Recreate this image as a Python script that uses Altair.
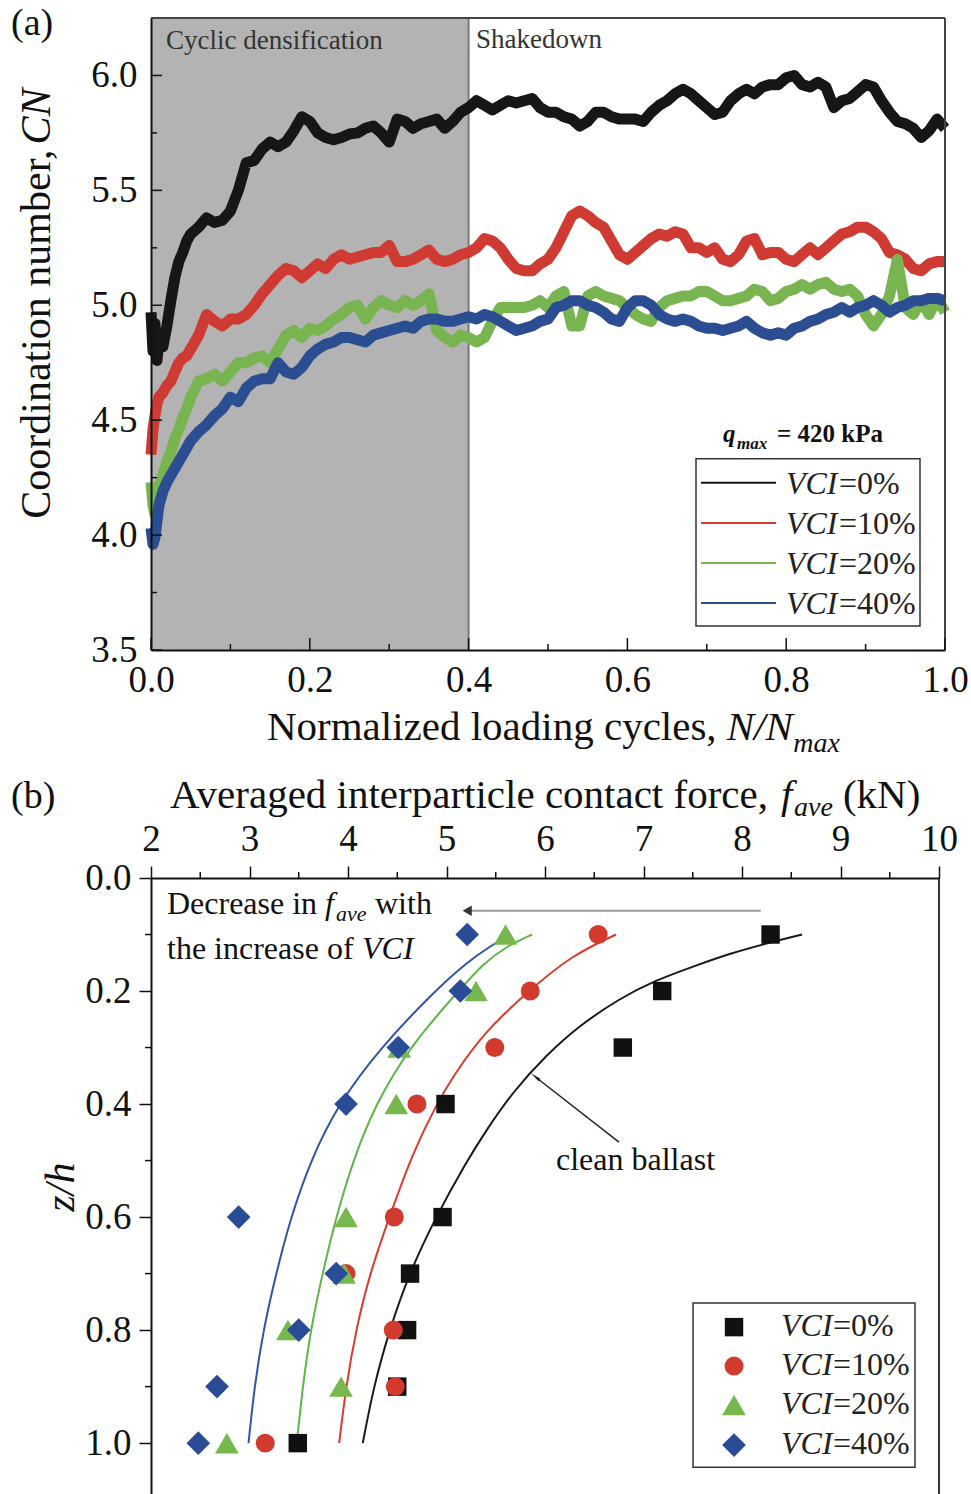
import altair as alt
import pandas as pd

FONT = "Liberation Serif"

# ---------------- panel (a): coordination number vs normalized cycles ----------------
T = [0, 0.0025, 0.005, 0.0075, 0.01, 0.015, 0.02, 0.025, 0.03, 0.035, 0.04, 0.045, 0.05,
     0.06, 0.07, 0.08, 0.09, 0.10, 0.11, 0.12, 0.13, 0.14, 0.15,
     0.16, 0.17, 0.18, 0.19, 0.20, 0.21, 0.22, 0.23, 0.24, 0.25,
     0.26, 0.27, 0.28, 0.29, 0.30, 0.31, 0.32, 0.33, 0.34, 0.35,
     0.36, 0.37, 0.38, 0.39, 0.40, 0.41, 0.42, 0.43, 0.44, 0.45,
     0.46, 0.47, 0.48, 0.49, 0.50, 0.51, 0.52, 0.53, 0.54, 0.55,
     0.56, 0.57, 0.58, 0.59, 0.60, 0.61, 0.62, 0.63, 0.64, 0.65,
     0.66, 0.67, 0.68, 0.69, 0.70, 0.71, 0.72, 0.73, 0.74, 0.75,
     0.76, 0.77, 0.78, 0.79, 0.80, 0.81, 0.82, 0.83, 0.84, 0.85,
     0.86, 0.87, 0.88, 0.89, 0.90, 0.91, 0.92, 0.93, 0.94, 0.95,
     0.96, 0.97, 0.98, 0.99, 1.00]

CN_VCI0 = [4.97, 4.80, 4.92, 4.76, 4.85, 4.82, 4.91, 5.02, 5.12, 5.19, 5.23, 5.28, 5.31,
           5.34, 5.38, 5.36, 5.37, 5.41, 5.50, 5.62, 5.63, 5.68, 5.71,
           5.69, 5.71, 5.76, 5.82, 5.80, 5.75, 5.73, 5.72, 5.73, 5.745,
           5.75, 5.77, 5.78, 5.75, 5.71, 5.81, 5.80, 5.77, 5.79, 5.80,
           5.81, 5.77, 5.80, 5.84, 5.86, 5.89, 5.87, 5.85, 5.87, 5.89,
           5.88, 5.89, 5.90, 5.86, 5.84, 5.84, 5.82, 5.81, 5.78, 5.80,
           5.84, 5.84, 5.82, 5.81, 5.81, 5.81, 5.80, 5.84, 5.87, 5.89,
           5.92, 5.94, 5.92, 5.89, 5.86, 5.83, 5.84, 5.89, 5.92, 5.94,
           5.92, 5.95, 5.96, 5.96, 5.99, 6.00, 5.96, 5.95, 5.97, 5.95,
           5.86, 5.89, 5.90, 5.93, 5.96, 5.95, 5.89, 5.84, 5.80, 5.79,
           5.77, 5.73, 5.76, 5.81, 5.77]

CN_VCI10 = [4.35, 4.46, 4.52, 4.57, 4.60, 4.62, 4.65, 4.67, 4.71, 4.75, 4.77, 4.78, 4.81,
            4.87, 4.96, 4.93, 4.91, 4.94, 4.94, 4.96, 5.00, 5.05, 5.09,
            5.13, 5.16, 5.15, 5.12, 5.15, 5.18, 5.16, 5.20, 5.22, 5.20,
            5.21, 5.22, 5.23, 5.23, 5.26, 5.19, 5.19, 5.20, 5.22, 5.24,
            5.20, 5.19, 5.20, 5.22, 5.23, 5.25, 5.29, 5.28, 5.25, 5.20,
            5.16, 5.15, 5.15, 5.18, 5.20, 5.25, 5.32, 5.39, 5.41, 5.39,
            5.36, 5.34, 5.28, 5.22, 5.20, 5.23, 5.26, 5.29, 5.31, 5.30,
            5.32, 5.31, 5.25, 5.25, 5.23, 5.25, 5.20, 5.19, 5.22, 5.28,
            5.29, 5.22, 5.23, 5.23, 5.20, 5.19, 5.22, 5.25, 5.22, 5.25,
            5.28, 5.31, 5.32, 5.34, 5.34, 5.32, 5.29, 5.23, 5.22, 5.20,
            5.16, 5.15, 5.18, 5.19, 5.19]

CN_VCI20 = [4.23, 4.13, 4.09, 4.13, 4.19, 4.26, 4.32, 4.36, 4.42, 4.46, 4.51, 4.55, 4.60,
            4.67, 4.68, 4.70, 4.67, 4.71, 4.75, 4.75, 4.77, 4.78, 4.75,
            4.81, 4.87, 4.89, 4.86, 4.90, 4.89, 4.91, 4.94, 4.96, 4.99,
            5.00, 4.94, 4.99, 5.02, 5.00, 4.99, 5.02, 5.00, 5.02, 5.05,
            4.89, 4.86, 4.84, 4.87, 4.86, 4.84, 4.86, 4.93, 4.99, 4.99,
            4.99, 4.99, 5.00, 5.02, 4.99, 5.04, 5.06, 4.91, 4.91, 5.04,
            5.06, 5.04, 5.03, 5.02, 4.99, 4.96, 4.94, 4.93, 4.99, 5.02,
            5.03, 5.04, 5.04, 5.06, 5.06, 5.04, 5.02, 5.02, 5.03, 5.04,
            5.07, 5.06, 5.02, 5.03, 5.06, 5.07, 5.09, 5.07, 5.09, 5.10,
            5.07, 5.06, 5.07, 5.04, 4.96, 4.91, 4.96, 5.04, 5.20, 4.99,
            4.96, 5.02, 4.96, 5.03, 4.97]

CN_VCI40 = [4.03, 3.96, 3.99, 4.06, 4.13, 4.19, 4.23, 4.26, 4.29, 4.32, 4.35, 4.38, 4.41,
            4.45, 4.48, 4.52, 4.55, 4.60, 4.58, 4.64, 4.67, 4.68, 4.68,
            4.75, 4.71, 4.70, 4.73, 4.78, 4.81, 4.83, 4.84, 4.86, 4.86,
            4.85, 4.84, 4.87, 4.88, 4.89, 4.90, 4.91, 4.90, 4.93, 4.94,
            4.94, 4.93, 4.93, 4.94, 4.95, 4.94, 4.96, 4.95, 4.93, 4.91,
            4.89, 4.90, 4.91, 4.93, 4.94, 4.99, 5.00, 5.02, 5.02, 5.00,
            4.99, 4.97, 4.94, 4.93, 4.99, 5.02, 5.02, 5.00, 4.96, 4.94,
            4.93, 4.94, 4.93, 4.91, 4.90, 4.90, 4.89, 4.90, 4.91, 4.93,
            4.90, 4.88, 4.87, 4.88, 4.87, 4.90, 4.91, 4.93, 4.94, 4.96,
            4.97, 4.99, 4.97, 4.99, 5.00, 5.02, 5.00, 4.97, 4.99, 5.00,
            5.02, 5.02, 5.03, 5.03, 5.02]

SERIES_LABELS = ["=0%", "=10%", "=20%", "=40%"]
LINE_COLORS = ["#161616", "#cf3b32", "#78b44f", "#2b4d92"]
PHASE_END = 0.4  # end of cyclic densification

# ---------------- panel (b): contact force vs depth ----------------
DEPTH = [0.1, 0.2, 0.3, 0.4, 0.6, 0.7, 0.8, 0.9, 1.0]
F_VCI0 = [8.29, 7.19, 6.79, 4.99, 4.96, 4.63, 4.60, 4.50, 3.49]
F_VCI10 = [6.54, 5.85, 5.49, 4.70, 4.47, 3.98, 4.46, 4.48, 3.16]
F_VCI20 = [5.60, 5.30, 4.52, 4.49, 3.98, 3.96, 3.39, 3.93, 2.77]
F_VCI40 = [5.21, 5.14, 4.51, 3.98, 2.89, 3.88, 3.50, 2.67, 2.48]

FIT0_Z = [0.10, 0.116, 0.134, 0.155, 0.181, 0.214, 0.261, 0.314, 0.379, 0.45, 0.5, 0.6, 0.7, 0.8, 0.9, 1.0]
FIT0_F = [8.61, 8.24, 7.87, 7.53, 7.12, 6.75, 6.35, 6.01, 5.67, 5.39, 5.21, 4.89, 4.62, 4.42, 4.26, 4.15]
FIT10_Z = [0.10, 0.137, 0.199, 0.273, 0.35, 0.4, 0.485, 0.6, 0.7, 0.8, 0.9, 1.0]
FIT10_F = [6.72, 6.27, 5.84, 5.38, 5.07, 4.90, 4.66, 4.42, 4.22, 4.08, 3.98, 3.91]
FIT20_Z = [0.10, 0.12, 0.15, 0.2, 0.3, 0.4, 0.5, 0.6, 0.7, 0.8, 0.9, 1.0]
FIT20_F = [5.87, 5.62, 5.38, 5.12, 4.62, 4.28, 4.05, 3.88, 3.74, 3.62, 3.54, 3.48]
FIT40_Z = [0.10, 0.12, 0.15, 0.2, 0.3, 0.4, 0.5, 0.6, 0.7, 0.8, 0.9, 1.0]
FIT40_F = [5.65, 5.45, 5.20, 4.88, 4.33, 3.90, 3.62, 3.42, 3.27, 3.14, 3.05, 2.99]

MARK_SHAPES = ["square", "circle", "triangle-up", "diamond"]
MARK_SIZES = [340, 360, 560, 560]
MARK_COLORS = ["#111111", "#d23a2e", "#76b84e", "#2a4c96"]
FIT_COLORS = ["#1a1a1a", "#dd3a30", "#5fb548", "#2f55a4"]

# ====================== PANEL (a) ======================
WA, HA = 794, 632
sxa = alt.Scale(domain=[0, 1], nice=False, zero=False)
sya = alt.Scale(domain=[3.5, 6.25], nice=False, zero=False)
axa = alt.Axis(values=[0, 0.2, 0.4, 0.6, 0.8, 1.0], format=".1f", title=None, ticks=False,
               labelPadding=12, labelFontSize=37, labelFont=FONT, labelColor="#111",
               domainColor="#111", domainWidth=2, grid=False, labelFlush=False, zindex=1)
aya = alt.Axis(values=[3.5, 4.0, 4.5, 5.0, 5.5, 6.0], format=".1f", title=None, ticks=False,
               labelPadding=14, labelFontSize=37, labelFont=FONT, labelColor="#111",
               domainColor="#111", domainWidth=2, grid=False, labelFlush=False, zindex=1)


def XA(f):
    return alt.X(f, type="quantitative", scale=sxa, axis=axa)


def YA(f):
    return alt.Y(f, type="quantitative", scale=sya, axis=aya)


def text_layer(X, Y, x, y, s, size, style="normal", weight="normal", align="left",
               baseline="alphabetic", angle=0, color="#111"):
    df = pd.DataFrame({"x": [x], "y": [y], "s": [s]})
    return alt.Chart(df).mark_text(font=FONT, fontSize=size, fontStyle=style, fontWeight=weight,
                                   align=align, baseline=baseline, angle=angle, color=color
                                   ).encode(x=X("x"), y=Y("y"), text="s:N")


shade = alt.Chart(pd.DataFrame({"x": [0], "x2": [PHASE_END], "y": [3.5], "y2": [6.25]})).mark_rect(
    color="#b3b3b3").encode(x=XA("x"), x2="x2", y=YA("y"), y2="y2")
boundary = alt.Chart(pd.DataFrame({"x": [PHASE_END], "y": [3.5], "y2": [6.25]})).mark_rule(
    color="#7a7a7a", strokeWidth=2).encode(x=XA("x"), y=YA("y"), y2="y2")

lines_a = []
for vals, col in zip([CN_VCI0, CN_VCI10, CN_VCI20, CN_VCI40], LINE_COLORS):
    df = pd.DataFrame({"t": T, "cn": vals})
    lines_a.append(alt.Chart(df).mark_line(color=col, strokeWidth=11, strokeJoin="round").encode(
        x=XA("t"), y=YA("cn"), order="t:Q"))

border_a = alt.Chart(pd.DataFrame({"x": [0, 1], "x2": [1, 1], "y": [6.25, 3.5], "y2": [6.25, 6.25]})).mark_rule(
    color="#444", strokeWidth=2).encode(x=XA("x"), x2="x2", y=YA("y"), y2="y2")

ticks_a = [
    alt.Chart(pd.DataFrame({"v": [3.5, 4.0, 4.5, 5.0, 5.5, 6.0]})).mark_rule(color="#111", strokeWidth=1.5)
    .encode(y=YA("v"), x=alt.value(0), x2=alt.value(11)),
    alt.Chart(pd.DataFrame({"v": [3.75, 4.25, 4.75, 5.25, 5.75]})).mark_rule(color="#111", strokeWidth=1.5)
    .encode(y=YA("v"), x=alt.value(0), x2=alt.value(6)),
    alt.Chart(pd.DataFrame({"v": [0, 0.2, 0.4, 0.6, 0.8, 1.0]})).mark_rule(color="#111", strokeWidth=1.5)
    .encode(x=XA("v"), y=alt.value(HA), y2=alt.value(HA - 12)),
    alt.Chart(pd.DataFrame({"v": [0.1, 0.3, 0.5, 0.7, 0.9]})).mark_rule(color="#111", strokeWidth=1.5)
    .encode(x=XA("v"), y=alt.value(HA), y2=alt.value(HA - 6)),
]

texts_a = [
    text_layer(XA, YA, -0.1763, 6.305, "(a)", 38, baseline="top"),
    text_layer(XA, YA, 0.0189, 6.113, "Cyclic densification", 27, color="#333"),
    text_layer(XA, YA, 0.4093, 6.119, "Shakedown", 27, color="#333"),
    text_layer(XA, YA, -0.1436, 4.071, "Coordination number,", 42, angle=270, baseline="middle"),
    text_layer(XA, YA, -0.1436, 5.70, "CN", 42, style="italic", angle=270, baseline="middle"),
    text_layer(XA, YA, 0.146, 3.108, "Normalized loading cycles,", 41),
    text_layer(XA, YA, 0.725, 3.108, "N/N", 41, style="italic"),
    text_layer(XA, YA, 0.809, 3.056, "max", 28, style="italic"),
    text_layer(XA, YA, 0.7204, 4.406, "q", 25, style="italic", weight="bold"),
    text_layer(XA, YA, 0.738, 4.3755, "max", 17, style="italic", weight="bold"),
    text_layer(XA, YA, 0.7884, 4.406, "= 420 kPa", 25, weight="bold"),
]

# legend (a)
LEG_A_ROWS = [4.2273, 4.0531, 3.8789, 3.7047]
leg_a_df = pd.DataFrame({"name": SERIES_LABELS, "row": LEG_A_ROWS,
                         "lab": [r - 0.004 for r in LEG_A_ROWS],
                         "x1": [0.6927] * 4, "x2": [0.7872] * 4,
                         "xv": [0.7997] * 4, "xs": [0.8665] * 4, "vci": ["VCI"] * 4})
leg_a_box = alt.Chart(pd.DataFrame({"x": [0.6864], "x2": [0.9685], "y": [4.332], "y2": [3.6045]})).mark_rect(
    fill="white", stroke="#333", strokeWidth=1.5).encode(x=XA("x"), x2="x2", y=YA("y"), y2="y2")
leg_a_lines = alt.Chart(leg_a_df).mark_rule(strokeWidth=2).encode(
    x=XA("x1"), x2="x2", y=YA("row"),
    color=alt.Color("name:N", scale=alt.Scale(domain=SERIES_LABELS, range=LINE_COLORS), legend=None))
leg_a_vci = alt.Chart(leg_a_df).mark_text(font=FONT, fontSize=32, fontStyle="italic", align="left",
                                          baseline="middle", color="#222").encode(
    x=XA("xv"), y=YA("lab"), text="vci:N")
leg_a_suf = alt.Chart(leg_a_df).mark_text(font=FONT, fontSize=32, align="left", baseline="middle",
                                          color="#222").encode(x=XA("xs"), y=YA("lab"), text="name:N")

panel_a = alt.layer(shade, boundary, *lines_a, border_a, *ticks_a, *texts_a,
                    leg_a_box, leg_a_lines, leg_a_vci, leg_a_suf).properties(width=WA, height=HA)

# ====================== PANEL (b) ======================
WB, HB = 788, 616
sxb = alt.Scale(domain=[2, 10], nice=False, zero=False)
syb = alt.Scale(domain=[0, 1.09], nice=False, zero=False, reverse=True)
axb = alt.Axis(orient="top", values=[2, 3, 4, 5, 6, 7, 8, 9, 10], format="d", title=None,
               tickSize=12, tickWidth=1.5, tickColor="#111", labelPadding=8, labelFontSize=37,
               labelFont=FONT, labelColor="#111", domainColor="#111", domainWidth=2, grid=False,
               labelFlush=False, zindex=1)
ayb = alt.Axis(values=[0, 0.2, 0.4, 0.6, 0.8, 1.0], format=".1f", title=None,
               tickSize=12, tickWidth=1.5, tickColor="#111", labelPadding=8, labelFontSize=37,
               labelFont=FONT, labelColor="#111", domainColor="#111", domainWidth=2, grid=False,
               labelFlush=False, zindex=1)


def XB(f):
    return alt.X(f, type="quantitative", scale=sxb, axis=axb)


def YB(f):
    return alt.Y(f, type="quantitative", scale=syb, axis=ayb)


fits = []
for zs, fs, col in zip([FIT0_Z, FIT10_Z, FIT20_Z, FIT40_Z], [FIT0_F, FIT10_F, FIT20_F, FIT40_F], FIT_COLORS):
    df = pd.DataFrame({"f": fs, "z": zs})
    fits.append(alt.Chart(df).mark_line(color=col, strokeWidth=2, interpolate="basis").encode(
        x=XB("f"), y=YB("z"), order="f:Q"))

points = []
for fs, shp, sz, col in zip([F_VCI0, F_VCI10, F_VCI20, F_VCI40], MARK_SHAPES, MARK_SIZES, MARK_COLORS):
    df = pd.DataFrame({"f": fs, "z": DEPTH})
    points.append(alt.Chart(df).mark_point(shape=shp, size=sz, filled=True, opacity=1, color=col).encode(
        x=XB("f"), y=YB("z")))

right_b = alt.Chart(pd.DataFrame({"x": [10], "y": [0], "y2": [1.09]})).mark_rule(
    color="#333", strokeWidth=2).encode(x=XB("x"), y=YB("y"), y2="y2")

ticks_b = [
    alt.Chart(pd.DataFrame({"v": [2.5, 3.5, 4.5, 5.5, 6.5, 7.5, 8.5, 9.5]})).mark_rule(color="#111", strokeWidth=1.5)
    .encode(x=XB("v"), y=alt.value(0), y2=alt.value(-6)),
    alt.Chart(pd.DataFrame({"v": [0.1, 0.3, 0.5, 0.7, 0.9]})).mark_rule(color="#111", strokeWidth=1.5)
    .encode(y=YB("v"), x=alt.value(0), x2=alt.value(-6)),
]

arrow_top = alt.Chart(pd.DataFrame({"x": [8.19], "x2": [5.22], "y": [0.058]})).mark_rule(
    color="#9a9a9a", strokeWidth=2).encode(x=XB("x"), x2="x2", y=YB("y"))
arrow_top_head = alt.Chart(pd.DataFrame({"x": [5.21], "y": [0.058]})).mark_point(
    shape="triangle-left", size=110, filled=True, opacity=1, color="#333").encode(x=XB("x"), y=YB("y"))
arrow_cb = alt.Chart(pd.DataFrame({"x": [6.751], "x2": [5.91], "y": [0.4673], "y2": [0.353]})).mark_rule(
    color="#222", strokeWidth=1.5).encode(x=XB("x"), x2="x2", y=YB("y"), y2="y2")
arrow_cb_head = alt.Chart(pd.DataFrame({"x": [5.915], "y": [0.3535]})).mark_point(
    shape="wedge", size=160, angle=308, filled=True, opacity=1, color="#222").encode(x=XB("x"), y=YB("y"))

texts_b = [
    text_layer(XB, YB, 0.5787, -0.177, "(b)", 38, baseline="top"),
    text_layer(XB, YB, 2.193, -0.1239, "Averaged interparticle contact force,", 41),
    text_layer(XB, YB, 8.396, -0.1239, "f", 41, style="italic"),
    text_layer(XB, YB, 8.528, -0.1097, "ave", 28, style="italic"),
    text_layer(XB, YB, 9.025, -0.1239, "(kN)", 41),
    text_layer(XB, YB, 1.086, 0.547, "z/h", 42, style="italic", angle=270, align="center", baseline="middle"),
    text_layer(XB, YB, 2.1624, 0.0637, "Decrease in", 32),
    text_layer(XB, YB, 3.766, 0.0637, "f", 32, style="italic"),
    text_layer(XB, YB, 3.878, 0.0761, "ave", 22, style="italic"),
    text_layer(XB, YB, 4.274, 0.0637, "with", 32),
    text_layer(XB, YB, 2.1624, 0.1434, "the increase of", 32),
    text_layer(XB, YB, 4.142, 0.1434, "VCI", 32, style="italic"),
    text_layer(XB, YB, 6.1117, 0.5168, "clean ballast", 32),
]

LEG_B_ROWS = [0.7947, 0.8637, 0.9327, 1.0035]
leg_b_box = alt.Chart(pd.DataFrame({"x": [7.503], "x2": [9.756], "y": [0.7522], "y2": [1.0425]})).mark_rect(
    fill="white", stroke="#333", strokeWidth=1.5).encode(x=XB("x"), x2="x2", y=YB("y"), y2="y2")
leg_b_syms = []
for r, shp, sz, col in zip(LEG_B_ROWS, MARK_SHAPES, MARK_SIZES, MARK_COLORS):
    leg_b_syms.append(alt.Chart(pd.DataFrame({"x": [7.919], "y": [r]})).mark_point(
        shape=shp, size=sz, filled=True, opacity=1, color=col).encode(x=XB("x"), y=YB("y")))
leg_b_df = pd.DataFrame({"name": SERIES_LABELS, "lab": [r - 0.002 for r in LEG_B_ROWS],
                         "xv": [8.396] * 4, "xs": [8.924] * 4, "vci": ["VCI"] * 4})
leg_b_vci = alt.Chart(leg_b_df).mark_text(font=FONT, fontSize=32, fontStyle="italic", align="left",
                                          baseline="middle", color="#222").encode(
    x=XB("xv"), y=YB("lab"), text="vci:N")
leg_b_suf = alt.Chart(leg_b_df).mark_text(font=FONT, fontSize=32, align="left", baseline="middle",
                                          color="#222").encode(x=XB("xs"), y=YB("lab"), text="name:N")

panel_b = alt.layer(*fits, *points, right_b, *ticks_b, arrow_top, arrow_top_head, arrow_cb, arrow_cb_head,
                    *texts_b, leg_b_box, *leg_b_syms, leg_b_vci, leg_b_suf).properties(width=WB, height=HB)

chart = alt.vconcat(panel_a, panel_b, spacing=228, bounds="flush").properties(
    padding={"left": 10, "top": 4, "right": 0, "bottom": 0}
).configure_view(stroke="transparent").configure(font=FONT)

chart.save("out.html", embed_options={"renderer": "svg", "actions": False})
